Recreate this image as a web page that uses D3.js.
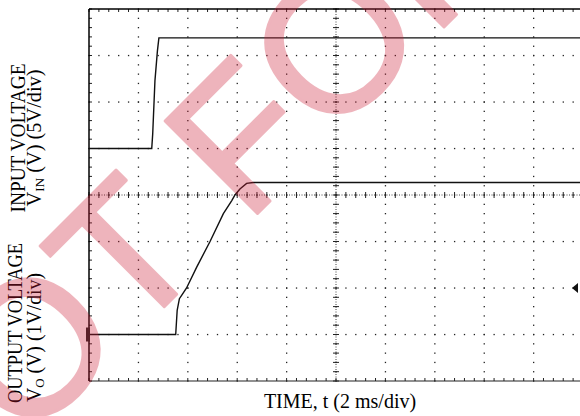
<!DOCTYPE html>
<html>
<head>
<meta charset="utf-8">
<script src="https://cdn.jsdelivr.net/npm/d3@7"></script>
<style>
  body { margin: 0; background: #fff; }
  svg { display: block; }
</style>
</head>
<body>
<div id="chart"></div>
<script>
// scope settings
const timeDomain = [0, 20];        // ms, 2 ms/div, 10 div
const inputDomain = [-25, 15];     // V, 5 V/div, 8 div
const outputDomain = [-1, 7];      // V, 1 V/div, 8 div

// traces
const inputTime = [0, 2.54, 2.58, 2.67, 2.77, 2.83, 20.5];
const inputVolt = [0, 0, 1.6, 7.3, 10.5, 11.9, 11.9];
const outputTime = [0, 3.51, 3.57, 3.66, 3.75, 3.95, 4.36, 4.9, 5.44, 5.78, 5.91, 6.11, 6.38, 6.65, 20.5];
const outputVolt = [0, 0, 0.52, 0.77, 0.84, 1.0, 1.45, 2.0, 2.6, 2.88, 3.0, 3.13, 3.25, 3.27, 3.27];

const triggerLevel = 1;  // V on output channel

const width = 580, height = 416;
const margin = { top: 9, left: 89, bottom: 35, right: -3 };

const svg = d3.select("#chart").append("svg")
  .attr("width", width).attr("height", height);

const x = d3.scaleLinear().domain(timeDomain).range([margin.left, width - margin.right]);
const yIn = d3.scaleLinear().domain(inputDomain).range([height - margin.bottom, margin.top]);
const yOut = d3.scaleLinear().domain(outputDomain).range([height - margin.bottom, margin.top]);

const x0 = x.range()[0], x1 = x.range()[1];
const yTop = yOut.range()[1], yBot = yOut.range()[0];

const grid = svg.append("g");
const dotColor = "#222";

// dotted graticule lines
const majorT = d3.range(2, 20, 2);
const majorV = d3.range(0, 7, 1);
const minorT = d3.range(0, 20.001, 0.4);
const minorV = d3.range(-1, 7.001, 0.2);

majorT.forEach(t => {
  grid.selectAll(null).data(minorV).join("rect")
    .attr("x", x(t) - 0.6).attr("y", v => yOut(v) - 0.6)
    .attr("width", 1.3).attr("height", 1.3).attr("fill", dotColor);
});
majorV.forEach(v => {
  grid.selectAll(null).data(minorT).join("rect")
    .attr("x", t => x(t) - 0.6).attr("y", yOut(v) - 0.6)
    .attr("width", 1.3).attr("height", 1.3).attr("fill", dotColor);
});

// centre cross with fine dots and ticks
const cx = x(10), cy = yOut(3);
grid.append("line").attr("x1", x0).attr("x2", x1).attr("y1", cy).attr("y2", cy)
  .attr("stroke", "#444").attr("stroke-width", 1).attr("stroke-dasharray", "1,1.5");
grid.append("line").attr("x1", cx).attr("x2", cx).attr("y1", yTop).attr("y2", yBot)
  .attr("stroke", "#444").attr("stroke-width", 1).attr("stroke-dasharray", "1,1.5");
grid.selectAll(null).data(minorT).join("line")
  .attr("x1", t => x(t)).attr("x2", t => x(t))
  .attr("y1", cy - 3).attr("y2", cy + 3)
  .attr("stroke", "#222").attr("stroke-width", 1);
grid.selectAll(null).data(minorV).join("line")
  .attr("x1", cx - 3).attr("x2", cx + 3)
  .attr("y1", v => yOut(v)).attr("y2", v => yOut(v))
  .attr("stroke", "#222").attr("stroke-width", 1);

// border ticks
grid.selectAll(null).data(minorT).join("line")
  .attr("x1", t => x(t)).attr("x2", t => x(t))
  .attr("y1", yBot).attr("y2", yBot - 3)
  .attr("stroke", "#222").attr("stroke-width", 1);
grid.selectAll(null).data(minorT).join("line")
  .attr("x1", t => x(t)).attr("x2", t => x(t))
  .attr("y1", yTop).attr("y2", yTop + 3)
  .attr("stroke", "#222").attr("stroke-width", 1);
grid.selectAll(null).data(minorV).join("line")
  .attr("x1", x0).attr("x2", x0 + 3)
  .attr("y1", v => yOut(v)).attr("y2", v => yOut(v))
  .attr("stroke", "#222").attr("stroke-width", 1);

// frame
grid.append("line").attr("x1", x0).attr("x2", x1).attr("y1", yTop).attr("y2", yTop)
  .attr("stroke", "#000").attr("stroke-width", 1.5);
grid.append("line").attr("x1", x0).attr("x2", x1).attr("y1", yBot).attr("y2", yBot)
  .attr("stroke", "#222").attr("stroke-width", 1.2);
grid.append("line").attr("x1", x0).attr("x2", x0).attr("y1", yTop).attr("y2", yBot)
  .attr("stroke", "#000").attr("stroke-width", 1.5);

// traces
const inLine = d3.line().x(d => x(d[0])).y(d => yIn(d[1]));
const outLine = d3.line().x(d => x(d[0])).y(d => yOut(d[1]));

svg.append("path")
  .attr("d", inLine(d3.zip(inputTime, inputVolt)))
  .attr("fill", "none").attr("stroke", "#111").attr("stroke-width", 1.4);
svg.append("path")
  .attr("d", outLine(d3.zip(outputTime, outputVolt)))
  .attr("fill", "none").attr("stroke", "#111").attr("stroke-width", 1.4);

// channel ground marker and trigger marker
svg.append("rect")
  .attr("x", x0 - 3).attr("y", yOut(0) - 7).attr("width", 4).attr("height", 14)
  .attr("fill", "#222");
const ty = yOut(triggerLevel);
svg.append("path")
  .attr("d", `M${width - 8},${ty} L${width - 2},${ty - 5} L${width - 2},${ty + 5} Z`)
  .attr("fill", "#111");

// axis titles
const labelFont = "'Liberation Serif', 'Times New Roman', serif";
svg.append("text")
  .attr("x", 340).attr("y", 408)
  .attr("text-anchor", "middle")
  .style("font-family", labelFont).style("font-size", "20px")
  .text("TIME, t (2 ms/div)");

function yTitle(bx, by, anchor, len, parts) {
  const t = svg.append("text")
    .attr("transform", `translate(${bx},${by}) rotate(-90)`)
    .attr("text-anchor", anchor)
    .attr("textLength", len).attr("lengthAdjust", "spacingAndGlyphs")
    .style("font-family", labelFont).style("font-size", "20px");
  parts.forEach(p => {
    const s = t.append("tspan").text(p.text);
    if (p.sub) s.style("font-size", "13px").attr("dy", 3);
    if (p.back) s.attr("dy", -3);
  });
}
yTitle(25, 138, "middle", 149, [{ text: "INPUT VOLTAGE" }]);
yTitle(41, 138, "middle", 137, [{ text: "V" }, { text: "IN", sub: true }, { text: " (V) (5V/div)", back: true }]);
yTitle(22, 403, "start", 160, [{ text: "OUTPUT VOLTAGE" }]);
yTitle(41, 402, "start", 129, [{ text: "V" }, { text: "O", sub: true }, { text: " (V) (1V/div)", back: true }]);

// watermark
const wm = svg.append("g").attr("opacity", 0.33);
wm.append("text")
  .attr("transform", "translate(-72,543) rotate(-45)")
  .style("font-family", "'Liberation Sans', Arial, sans-serif")
  .style("font-size", "190px")
  .attr("fill", "rgb(205,30,55)")
  .attr("stroke", "rgb(205,30,55)").attr("stroke-width", 3).attr("stroke-linejoin", "round")
  .text("NOT FOR");
</script>
</body>
</html>
